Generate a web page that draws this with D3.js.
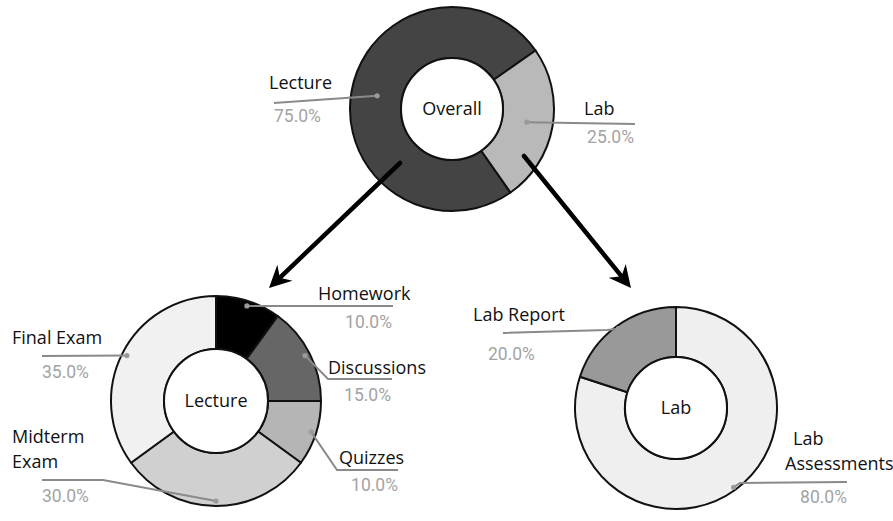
<!DOCTYPE html>
<html>
<head>
<meta charset="utf-8">
<script src="https://cdn.jsdelivr.net/npm/d3@7"></script>
<style>
  html, body { margin: 0; padding: 0; background: #fff; }
  svg { display: block; }
</style>
</head>
<body>
<svg id="chart" width="893" height="521"></svg>
<script>
// ---------------- DATA ----------------
const overallCategories = ["Lecture", "Lab"];
const overallValues = [75, 25];

const lectureCategories = ["Homework", "Discussions", "Quizzes", "Midterm Exam", "Final Exam"];
const lectureValues = [10, 15, 10, 30, 35];

const labCategories = ["Lab Assessments", "Lab Report"];
const labValues = [80, 20];

// ---------------- STYLE / LAYOUT ----------------
const overallColors = ["#444444", "#b9b9b9"];
const lectureColors = ["#000000", "#666666", "#b5b5b5", "#d0d0d0", "#f1f1f1"];
const labColors = ["#efefef", "#999999"];

const donuts = [
  { name: "Overall", cats: overallCategories, vals: overallValues, colors: overallColors,
    cx: 452, cy: 109, rO: 102, rI: 51, start: 145, dotR: 76, titleDy: 6,
    labels: {
      "Lecture": { path: [[274, 103]], text: [{ t: "Lecture", x: 269, y: 89, a: "start" }], pct: { x: 274, y: 122, a: "start" } },
      "Lab": { path: [[635, 124]], text: [{ t: "Lab", x: 584, y: 115, a: "start" }], pct: { x: 634, y: 143, a: "end" } }
    } },
  { name: "Lecture", cats: lectureCategories, vals: lectureValues, colors: lectureColors,
    cx: 216, cy: 401, rO: 105, rI: 52, start: 0, dotR: 100, titleDy: 6,
    labels: {
      "Homework": { path: [[393, 306]], text: [{ t: "Homework", x: 318, y: 300, a: "start" }], pct: { x: 392, y: 328, a: "end" } },
      "Discussions": { path: [[328, 379], [392, 379]], text: [{ t: "Discussions", x: 328, y: 374, a: "start" }], pct: { x: 391, y: 401, a: "end" } },
      "Quizzes": { path: [[337, 470], [398, 470]], text: [{ t: "Quizzes", x: 339, y: 464, a: "start" }], pct: { x: 398, y: 491, a: "end" } },
      "Midterm Exam": { path: [[103, 480], [42, 480]], text: [{ t: "Midterm", x: 12, y: 443, a: "start" }, { t: "Exam", x: 12, y: 468, a: "start" }], pct: { x: 42, y: 502, a: "start" } },
      "Final Exam": { path: [[42, 356]], text: [{ t: "Final Exam", x: 12, y: 344, a: "start" }], pct: { x: 42, y: 378, a: "start" } }
    } },
  { name: "Lab", cats: labCategories, vals: labValues, colors: labColors,
    cx: 676, cy: 408, rO: 101, rI: 51, start: 0, dotR: 98, titleDy: 6,
    labels: {
      "Lab Assessments": { path: [[740, 483], [847, 482]], text: [{ t: "Lab", x: 793, y: 445, a: "start" }, { t: "Assessments", x: 785, y: 470, a: "start" }], pct: { x: 847, y: 503, a: "end" } },
      "Lab Report": { path: [[607, 330], [503, 333]], text: [{ t: "Lab Report", x: 473, y: 321, a: "start" }], pct: { x: 488, y: 360, a: "start" } }
    } }
];

const arrows = [
  { x1: 400, y1: 163, x2: 269, y2: 288 },
  { x1: 524, y1: 156, x2: 631, y2: 288 }
];

const labelFont = "'Open Sans', 'DejaVu Sans', sans-serif";
const pctFont = "Roboto, 'Liberation Sans', sans-serif";

// ---------------- DRAW ----------------
const svg = d3.select("#chart");
const fmt = d3.format(".1f");
const rad = d => d * Math.PI / 180;

donuts.forEach(dn => {
  const pie = d3.pie().sort(null).value(d => d.v)
    .startAngle(rad(dn.start)).endAngle(rad(dn.start) + 2 * Math.PI);
  const data = dn.cats.map((c, i) => ({ c, v: dn.vals[i], color: dn.colors[i] }));
  const arcs = pie(data);
  const arc = d3.arc().innerRadius(dn.rI).outerRadius(dn.rO);
  const g = svg.append("g").attr("transform", `translate(${dn.cx},${dn.cy})`);

  g.selectAll("path.slice").data(arcs).join("path")
    .attr("class", "slice")
    .attr("d", arc)
    .attr("fill", d => d.data.color)
    .attr("stroke", "#111").attr("stroke-width", 2)
    .attr("stroke-linejoin", "round");

  g.append("circle").attr("r", dn.rI).attr("fill", "#fff").attr("stroke", "#111").attr("stroke-width", 2);

  g.append("text")
    .attr("text-anchor", "middle").attr("dy", dn.titleDy)
    .attr("font-family", labelFont).attr("font-size", 18).attr("fill", "#111")
    .text(dn.name);

  // leader lines and labels
  const dotArc = d3.arc().innerRadius(dn.dotR).outerRadius(dn.dotR);
  arcs.forEach(a => {
    const L = dn.labels[a.data.c];
    const [px, py] = dotArc.centroid(a);
    const dot = [dn.cx + px, dn.cy + py];
    const pts = [dot].concat(L.path);
    svg.append("path")
      .attr("d", d3.line()(pts))
      .attr("fill", "none").attr("stroke", "#8a8a8a").attr("stroke-width", 2);
    svg.append("circle").attr("cx", dot[0]).attr("cy", dot[1]).attr("r", 2.6).attr("fill", "#9a9a9a");

    L.text.forEach(t => {
      svg.append("text")
        .attr("x", t.x).attr("y", t.y).attr("text-anchor", t.a)
        .attr("font-family", labelFont).attr("font-size", 18).attr("fill", "#111")
        .text(t.t);
    });
    svg.append("text")
      .attr("x", L.pct.x).attr("y", L.pct.y).attr("text-anchor", L.pct.a)
      .attr("font-family", pctFont).attr("font-size", 17.5).attr("fill", "#a3a3a3")
      .text(fmt(a.data.v) + "%");
  });
});

// arrows on top: shaft + filled head computed from direction
const ag = svg.append("g");
arrows.forEach(d => {
  const dx = d.x2 - d.x1, dy = d.y2 - d.y1;
  const len = Math.hypot(dx, dy);
  const ux = dx / len, uy = dy / len;      // unit along
  const nx = -uy, ny = ux;                  // normal
  const headLen = 22, headHalf = 11, notch = 15;
  const bx = d.x2 - ux * headLen, by = d.y2 - uy * headLen;
  const mx = d.x2 - ux * notch, my = d.y2 - uy * notch;
  ag.append("line")
    .attr("x1", d.x1).attr("y1", d.y1)
    .attr("x2", mx + ux * 2).attr("y2", my + uy * 2)
    .attr("stroke", "#000").attr("stroke-width", 4.5)
    .attr("stroke-linecap", "round");
  ag.append("path")
    .attr("d", d3.line()([
      [d.x2, d.y2],
      [bx + nx * headHalf, by + ny * headHalf],
      [mx, my],
      [bx - nx * headHalf, by - ny * headHalf]
    ]) + "Z")
    .attr("fill", "#000");
});
</script>
</body>
</html>
